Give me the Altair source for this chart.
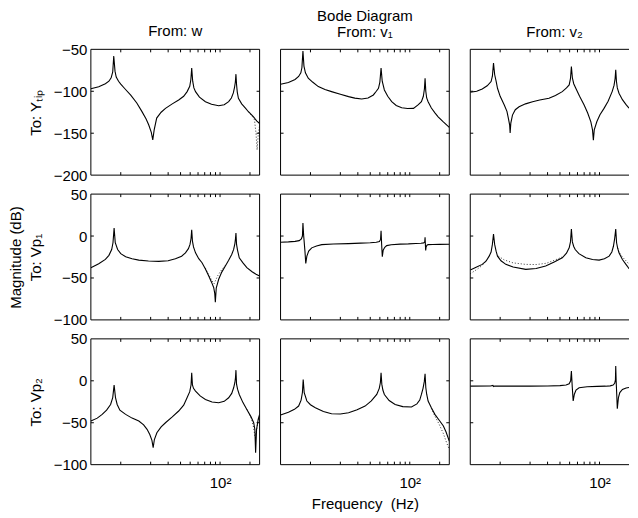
import altair as alt
import pandas as pd

FONT = "Liberation Sans"
FS = 15
TICK = 3

col_titles = ["From: w", ["Bode Diagram", "From: v₁"], "From: v₂"]
row_titles = ["To: Yₜᵢₚ", ["Magnitude (dB)", "To: Vp₁"], "To: Vp₂"]
row_domains = [[-200, -50], [-100, 50], [-100, 50]]
row_label_values = [[-200, -150, -100, -50], [-100, -50, 0, 50], [-100, -50, 0, 50]]
row_inner_ticks = [[-150, -100], [-50, 0], [-50, 0]]
x_tick_values = [10, 20, 30, 40, 50, 60, 70, 80, 90, 100, 200]
x_label_values = [100]
# the third column is cut at the right edge of the page, as in the reference
x_domains = [[5, 250], [5, 250], [5, 198]]
panel_widths = [169, 169, 159]

# ---- Row 1: To Y_tip ----
f_yw = [5, 6, 7, 7.6, 8.0, 8.3, 8.5, 8.75, 9.0, 9.5, 10, 11, 12.6, 14.5, 16.3, 18, 19.1, 20.3, 21, 21.7,
        23, 25.5, 28.2, 33, 38.3, 43, 46.6, 49.5, 50.8, 51.8, 53, 54.5, 56.6, 62, 71.2, 82, 96.8, 110, 122, 130,
        136, 140, 142.5, 144.5, 146.5, 149, 153, 165, 180, 193, 215, 235, 250]
db_yw = [-97, -94.5, -91, -88, -84, -77, -58, -76, -83, -88, -91.5, -97, -104.5, -114, -124, -133, -140, -149, -158, -146,
         -132, -125, -120.4, -115, -110.4, -106, -100.4, -94, -86, -72.4, -88, -96, -100.4, -107, -112.4, -115.5, -117.2, -116, -112.4, -108,
         -102, -95, -89, -79.6, -92, -101, -108.4, -115, -120, -124.4, -130, -135.5, -138.4]
dots_yw = [([193, 210, 222, 230, 236, 243, 250], [-124.5, -129.5, -134, -150, -170, -150, -141])]

f_yv1 = [5, 6, 7, 7.6, 8.0, 8.2, 8.4, 8.6, 8.9, 9.5, 10.5, 12, 14, 16.3, 20, 24.2, 28, 32.8, 38, 43,
         46, 48.4, 50, 51.4, 52.8, 55.5, 60, 65.8, 73, 83, 95, 109, 122, 131, 137, 140.5, 142.6, 145, 148, 153,
         165, 180, 193, 215, 250]
db_yv1 = [-91.6, -89.5, -86, -82.4, -78, -72, -52, -70, -78, -84.4, -89, -94.4, -98, -100.4, -103.5, -106.4, -108.2, -109.2, -108, -104.4,
          -100, -96.4, -89, -72.4, -88, -98.4, -106, -112.4, -117, -119.6, -120.6, -120.4, -116, -112.4, -106, -97, -84.4, -100, -108, -112.4,
          -120, -126, -130.4, -136, -143]
dots_yv1 = []

f_yv2 = [5, 5.8, 6.6, 7.4, 8.1, 8.35, 8.57, 8.8, 9.1, 9.4, 10, 11, 11.7, 12.1, 12.45, 12.6, 12.8, 13.3, 14.2, 15.5,
         18, 21.2, 25, 31, 36, 42.2, 46.5, 49.5, 51, 52.1, 53.3, 55, 57.7, 63, 70, 76, 81.8, 85, 86.7, 88.5,
         93.9, 101, 111, 122, 134, 140, 143.5, 145.6, 148, 151, 157, 170, 185, 198]
db_yv2 = [-101.2, -100, -97.2, -93.5, -88.4, -82, -66.4, -80, -88, -96.4, -106, -116.4, -124, -132.4, -140, -149.6, -138, -128.4, -122, -118.4,
          -115, -112.4, -110.5, -108.4, -105, -100.4, -96, -92.4, -85, -70.4, -84, -91, -96.4, -106, -116.4, -126, -136.4, -146, -158.4, -146,
          -136.4, -128, -120.4, -112, -100.4, -93, -85, -74.4, -88, -96, -102.4, -110, -116, -120.2]
dots_yv2 = []

# ---- Row 2: To Vp1 ----
f_p1w = [5, 6, 7, 7.6, 8.1, 8.35, 8.57, 8.8, 9.3, 10, 11.2, 13, 15.2, 19, 24.2, 30, 35.5, 41, 44.8, 48,
         49.8, 51, 51.8, 52.7, 54, 56.6, 61, 65.8, 71, 76.9, 82, 86.2, 88.3, 89.6, 91.5, 96.8, 104, 113, 122, 131,
         137, 141, 143, 144.5, 146.5, 150, 156, 170, 186, 210, 230, 250]
db_p1w = [-37.7, -33, -27.9, -23, -16.1, -8, 9.5, -8, -16.1, -21, -24.7, -27, -28.7, -29.8, -30.2, -29.5, -27.1, -24, -20, -15,
          -10, -3, 7.5, -6, -13, -20, -27, -31.8, -39, -47.6, -55, -61.3, -68, -79, -62, -51.5, -43, -35.8, -29, -22,
          -16, -9, -3, 3.6, -10, -17, -25.9, -32, -37.7, -42.5, -45.5, -47.6]
dots_p1w = [([71, 76, 81, 84.5, 87, 90, 95, 104, 113], [-38, -45, -51, -55, -57, -53, -47, -40, -35])]

f_p1v1 = [5, 6, 7, 7.7, 8.1, 8.3, 8.4, 8.55, 8.8, 8.97, 9.2, 9.6, 10.3, 11.5, 13, 17, 24.2, 32, 40, 46,
          49.5, 50.8, 51.4, 52.1, 52.9, 54, 56, 58.6, 65, 80, 96.8, 115, 130, 138, 141.5, 142.6, 143.6, 144.6, 146, 149,
          153, 170, 200, 250]
db_p1v1 = [-7.4, -7, -6.4, -5.5, -3.5, 0, 15.4, 0, -18, -32.6, -24, -18, -14.1, -11.8, -10.2, -9.5, -9, -8.5, -8, -7.5,
           -6.5, -4, 6.3, -10, -24.7, -17, -13.5, -11.4, -10.3, -9.7, -9.4, -8.9, -8.6, -8.2, -7, -1.5, -10, -17.3, -13, -11,
           -10.2, -10, -9.9, -9.8]
dots_p1v1 = []

f_p1v2 = [5, 5.8, 6.6, 7.2, 7.75, 8.1, 8.35, 8.57, 8.8, 9.1, 9.4, 10.2, 11.4, 13.5, 18.1, 23, 28.7, 35, 42.2, 46.5,
          49.5, 51, 52.1, 53.3, 55, 56.9, 62, 72.8, 85, 99, 112, 125, 133, 138, 142, 145.6, 148.5, 152, 157, 170,
          190, 198]
db_p1v2 = [-40.5, -37, -33.8, -30, -24, -19, -10, 2.4, -10, -18, -24, -29.5, -33.8, -37, -39.7, -38.8, -35.8, -31, -25.9, -20.5,
           -14.1, -7, 8.3, -7, -12.5, -16.1, -21, -25.9, -28, -28.7, -27, -24, -19, -12.2, -3, 8.3, -8, -14, -20, -28,
           -35.8, -39]
dots_p1v2 = [([5, 5.8, 6.6, 7.4], [-45, -40, -35, -28]),
             ([9.6, 11, 13.5, 18, 23, 29, 35, 42], [-24, -28.5, -32, -33.8, -34, -32.5, -29, -25]),
             ([152, 157, 170, 190, 198], [-14, -19, -25, -31, -33.5])]

# ---- Row 3: To Vp2 ----
f_p2w = [5, 5.8, 6.5, 7.2, 7.9, 8.3, 8.57, 8.85, 9.2, 9.8, 11.2, 13, 15.2, 17, 18.4, 19.6, 20.6, 21.2, 21.8, 23.1,
         25.5, 28.2, 33, 38.3, 43, 46.5, 49.5, 51, 51.8, 52.7, 54, 56.6, 63, 71.2, 83, 96.8, 110, 122, 131, 137,
         141, 143, 144.5, 146.5, 150, 156, 170, 186, 205, 218, 224, 228, 233, 242, 250]
db_p2w = [-48, -44.5, -40, -35, -28.2, -20, -5.1, -20, -28.2, -35, -40, -44.5, -48, -52.5, -57.9, -64, -71, -79.7, -70, -61.9,
          -55, -50, -43, -36, -29, -20.2, -13, -5, 9.5, -5, -9, -12.2, -18, -22.2, -25.3, -26.2, -24.5, -20.2, -15, -8.3,
          -2, 4, 12.7, -4, -10, -16.3, -26, -34.1, -43, -50, -58, -85.7, -58, -46, -40]
dots_p2w = [([186, 200, 210, 218, 224, 232, 240, 250], [-34, -41, -48, -56, -66, -60, -50, -42])]

f_p2v1 = [5, 6, 6.9, 7.6, 8.05, 8.3, 8.45, 8.65, 9.2, 10, 11.2, 13.5, 16.3, 20, 24.2, 29.5, 35.5, 41, 46.5, 49.3,
          50.6, 51.4, 52.3, 53.6, 55.5, 62, 71.2, 85, 104, 118, 126, 131, 136, 140, 142.6, 145, 148, 153, 165, 179,
          198, 218, 232, 250]
db_p2v1 = [-40.8, -37.5, -34, -30.1, -23, -14, 1.6, -14, -24.1, -28.5, -32.1, -36.5, -39.3, -39.5, -38, -34.5, -30.1, -24, -16.3, -9,
           -2, 9.5, -4, -11, -16.3, -23.5, -28.2, -30.8, -31.3, -27.5, -23, -16.3, -9, -1, 8.3, -8, -16, -24.1, -32, -40,
           -47, -53.9, -61, -72]
dots_p2v1 = [([165, 179, 198, 218, 232, 250], [-33, -42, -52, -63, -72, -82])]

f_p2v2 = [5, 8, 8.45, 8.6, 8.8, 12, 20, 30, 40, 46, 49.5, 51.2, 52.1, 53.2, 54.3, 55.8, 58, 62.3, 75, 95,
          115, 128, 137, 142, 144.6, 145.6, 147, 149, 151, 155, 160, 170, 185, 198]
db_p2v2 = [-6.3, -6.2, -5.5, -6.8, -6.3, -6.3, -6.3, -6.2, -5.8, -5, -3.5, 0, 11.6, -8, -24.1, -16, -11, -8.3, -7, -6.6,
           -6.4, -6, -5, -3, 1, 17.5, 0, -16, -33.3, -20, -14, -10.3, -8.5, -7.9]
dots_p2v2 = []

panels = [
    [(f_yw, db_yw, dots_yw), (f_yv1, db_yv1, dots_yv1), (f_yv2, db_yv2, dots_yv2)],
    [(f_p1w, db_p1w, dots_p1w), (f_p1v1, db_p1v1, dots_p1v1), (f_p1v2, db_p1v2, dots_p1v2)],
    [(f_p2w, db_p2w, dots_p2w), (f_p2v1, db_p2v1, dots_p2v1), (f_p2v2, db_p2v2, dots_p2v2)],
]
title_offsets = [-12, -6, -6]
title_dx = [0, 0, 5]


def seg_df(segs):
    rows = []
    for i, (ff, dd) in enumerate(segs):
        for a, b in zip(ff, dd):
            rows.append({"seg": i, "f": a, "db": b})
    return pd.DataFrame(rows)


def panel(r, c):
    f, db, dots = panels[r][c]
    w = panel_widths[c]
    h = 126
    xmax = x_domains[c][1]
    xs = alt.Scale(type="log", domain=x_domains[c], nice=False)
    ys = alt.Scale(domain=row_domains[r], nice=False, zero=False)

    if r == 2:
        xk = dict(values=x_label_values, labelExpr="'10²'", ticks=False, domain=False, grid=False,
                  labelPadding=11, labelFont=FONT, labelFontSize=FS, labelColor="black", labelFlush=False)
        if c == 1:
            xk.update(title="Frequency\u00a0 (Hz)", titleFont=FONT, titleFontSize=FS, titleFontWeight="normal",
                      titleColor="black", titlePadding=6)
        else:
            xk.update(title=None)
        xaxis = alt.Axis(**xk)
    else:
        xaxis = None

    if c == 0:
        yaxis = alt.Axis(values=row_label_values[r], ticks=False, domain=False, grid=False, labelPadding=4,
                         labelFont=FONT, labelFontSize=FS, labelColor="black", labelFlush=False,
                         labelOverlap=False, title=row_titles[r], titleFont=FONT, titleFontSize=FS,
                         titleFontWeight="normal", titleColor="black", titlePadding=9.5, titleLineHeight=20)
    else:
        yaxis = None

    X = alt.X("f:Q", scale=xs, axis=xaxis)
    Y = alt.Y("db:Q", scale=ys, axis=yaxis)

    layers = []
    if dots:
        layers.append(alt.Chart(seg_df(dots)).mark_line(color="black", strokeWidth=1, strokeDash=[1, 2],
                                                         clip=True, opacity=0.8)
                      .encode(x=X, y=Y, detail="seg:N"))
    layers.append(alt.Chart(pd.DataFrame({"f": f, "db": db})).mark_line(color="black", strokeWidth=1.1, clip=True)
                  .encode(x=X, y=Y))

    xt = pd.DataFrame({"f": [v for v in x_tick_values if v < xmax]})
    yt = pd.DataFrame({"db": row_inner_ticks[r]})
    layers.append(alt.Chart(xt).mark_rule(color="black", strokeWidth=1)
                  .encode(x=X, y=alt.value(0), y2=alt.value(TICK)))
    layers.append(alt.Chart(xt).mark_rule(color="black", strokeWidth=1)
                  .encode(x=X, y=alt.value(h - TICK), y2=alt.value(h)))
    layers.append(alt.Chart(yt).mark_rule(color="black", strokeWidth=1)
                  .encode(y=Y, x=alt.value(0), x2=alt.value(TICK)))
    if c < 2:
        layers.append(alt.Chart(yt).mark_rule(color="black", strokeWidth=1)
                      .encode(y=Y, x=alt.value(w - TICK), x2=alt.value(w)))

    # frame (the third column has its right side beyond the page edge)
    one = pd.DataFrame({"k": [0]})
    layers.append(alt.Chart(one).mark_rule(color="black", strokeWidth=1)
                  .encode(x=alt.value(0), y=alt.value(0), y2=alt.value(h)))
    layers.append(alt.Chart(one).mark_rule(color="black", strokeWidth=1)
                  .encode(x=alt.value(0), x2=alt.value(w), y=alt.value(0)))
    layers.append(alt.Chart(one).mark_rule(color="black", strokeWidth=1)
                  .encode(x=alt.value(0), x2=alt.value(w), y=alt.value(h)))
    if c < 2:
        layers.append(alt.Chart(one).mark_rule(color="black", strokeWidth=1)
                      .encode(x=alt.value(w), y=alt.value(0), y2=alt.value(h)))

    ch = alt.layer(*layers).properties(width=w, height=h)
    if r == 0:
        ch = ch.properties(title=alt.TitleParams(
            text=col_titles[c], font=FONT, fontSize=FS, fontWeight="normal", color="black",
            anchor="middle", frame="group", baseline="bottom", offset=title_offsets[c],
            lineHeight=16, dx=title_dx[c]))
    return ch


charts = [panel(r, c) for r in range(3) for c in range(3)]
chart = (alt.concat(*charts, columns=3, spacing={"row": 19, "column": 21}, bounds="flush")
         .properties(padding={"left": 0, "top": 0, "right": 0, "bottom": 0}, background="white")
         .configure_view(strokeWidth=0))

chart.save("out.html", embed_options={"renderer": "svg", "actions": False})
